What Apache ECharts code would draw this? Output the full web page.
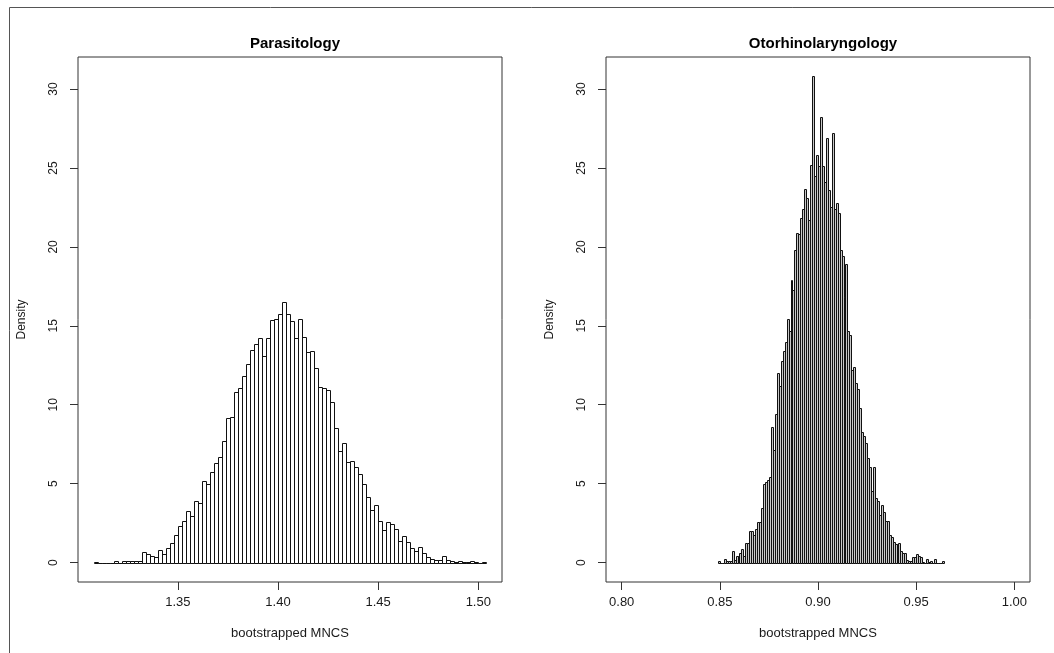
<!DOCTYPE html>
<html>
<head>
<meta charset="utf-8">
<title>bootstrapped MNCS</title>
<script src="https://cdn.jsdelivr.net/npm/echarts@6/dist/echarts.min.js"></script>
<style>
  html, body { margin: 0; padding: 0; background: #fff; }
  #chart { width: 1054px; height: 653px; }
</style>
</head>
<body>
<div id="chart"></div>
<script>
// histogram breaks (lower edge of first bin and bin width)
var paraStart = 1.308;
var paraWidth = 0.002;
var otoStart = 0.849;
var otoWidth = 0.001;

// density per bin
var paraDensity = [
  0.05, 0, 0, 0, 0, 0.08, 0, 0.08, 0.08, 0.08,
  0.08, 0.08, 0.70, 0.53, 0.44, 0.38, 0.80, 0.53, 0.95, 1.22,
  1.73, 2.30, 2.66, 3.29, 2.93, 3.88, 3.76, 5.15, 4.98, 5.76,
  6.29, 6.69, 7.72, 9.14, 9.22, 10.78, 11.08, 11.79, 12.59, 13.46,
  13.82, 14.24, 13.06, 14.24, 15.36, 15.44, 15.78, 16.52, 15.78, 15.32,
  14.24, 15.46, 14.26, 13.33, 13.42, 12.30, 11.10, 11.05, 10.93, 10.19,
  8.50, 7.09, 7.55, 6.39, 6.46, 6.08, 5.59, 4.98, 4.14, 3.33,
  3.65, 2.64, 2.07, 2.55, 2.45, 2.11, 1.35, 1.71, 1.29, 0.93,
  0.72, 0.97, 0.59, 0.38, 0.21, 0.15, 0.15, 0.44, 0.15, 0.10,
  0.05, 0.08, 0.05, 0.05, 0.08, 0.05, 0, 0.05
];

var otoDensity = [
  0.13, 0, 0, 0.23, 0.1, 0.1, 0.1, 0.74, 0.15, 0.42,
  0.42, 0.63, 0.86, 0.42, 1.27, 1.27, 2.03, 2.03, 1.75, 2.13,
  2.57, 2.60, 3.48, 4.98, 5.08, 5.23, 5.40, 8.6, 7.1, 9.4,
  12.0, 11.2, 12.8, 13.4, 14.0, 15.4, 14.7, 17.9, 17.3, 19.8,
  20.9, 20.8, 21.8, 22.4, 23.7, 23.1, 21.7, 25.2, 30.8, 24.5,
  25.8, 25.1, 28.2, 25.1, 24.1, 26.9, 23.6, 22.5, 27.2, 22.4,
  22.8, 22.15, 19.8, 19.4, 16.8, 18.9, 14.7, 14.4, 12.2, 12.4,
  11.35, 11.0, 9.8, 8.3, 8.0, 7.55, 6.6, 6.08, 4.56, 6.03,
  4.07, 3.92, 3.02, 3.65, 3.2, 2.66, 2.66, 1.75, 1.6, 1.33,
  1.18, 1.18, 1.22, 0.76, 0.63, 0.59, 0.15, 0.1, 0.1, 0.38,
  0.38, 0.55, 0.42, 0.34, 0.06, 0, 0.21, 0.06, 0.13, 0,
  0.21, 0, 0, 0, 0.1
];

var paraTicks = [1.35, 1.40, 1.45, 1.50];
var otoTicks = [0.80, 0.85, 0.90, 0.95, 1.00];
var densityTicks = [0, 5, 10, 15, 20, 25, 30];

var titles = ["Parasitology", "Otorhinolaryngology"];
var xName = "bootstrapped MNCS";
var yName = "Density";

var FONT = "'Liberation Sans', Arial, Helvetica, sans-serif";
var TXT = "#1a1a1a";

function toBins(start, width, dens) {
  var out = [];
  for (var i = 0; i < dens.length; i++) {
    var lo = +(start + i * width).toFixed(4);
    var hi = +(start + (i + 1) * width).toFixed(4);
    out.push([lo, hi, dens[i]]);
  }
  return out;
}

// snap to the pixel grid so thin bars stay crisp like the R output
function snap(v) {
  return Math.round(v) + 0.5;
}

function barRenderer(fill) {
  return function (params, api) {
    var top = api.coord([api.value(0), api.value(2)]);
    var bot = api.coord([api.value(1), 0]);
    var x0 = snap(top[0]), x1 = snap(bot[0]);
    var y0 = snap(top[1]), y1 = snap(bot[1]);
    return {
      type: "rect",
      shape: { x: x0, y: y0, width: x1 - x0, height: y1 - y0 },
      style: { fill: fill, stroke: "#111", lineWidth: 1 }
    };
  };
}

function xAxisFor(idx, min, max, ticks) {
  return {
    type: "value",
    gridIndex: idx,
    min: min,
    max: max,
    name: xName,
    nameLocation: "middle",
    nameGap: 45,
    nameTextStyle: { fontFamily: FONT, fontSize: 13, color: TXT },
    axisLine: { show: false, onZero: false },
    splitLine: { show: false },
    axisTick: {
      show: true,
      inside: false,
      length: 8,
      customValues: ticks,
      lineStyle: { color: "#333", width: 1 }
    },
    axisLabel: {
      show: true,
      customValues: ticks,
      margin: 14,
      fontFamily: FONT,
      fontSize: 13,
      color: TXT,
      formatter: function (v) { return v.toFixed(2); }
    }
  };
}

function yAxisFor(idx) {
  return {
    type: "value",
    gridIndex: idx,
    min: -1.232,
    max: 32.032,
    name: yName,
    nameLocation: "middle",
    nameGap: 50,
    nameRotate: 90,
    nameTextStyle: { fontFamily: FONT, fontSize: 12, color: TXT },
    axisLine: { show: false, onZero: false },
    splitLine: { show: false },
    axisTick: {
      show: true,
      inside: false,
      length: 8,
      customValues: densityTicks,
      lineStyle: { color: "#333", width: 1 }
    },
    axisLabel: {
      show: true,
      customValues: densityTicks,
      rotate: 90,
      margin: 18,
      fontFamily: FONT,
      fontSize: 12,
      color: TXT
    }
  };
}

var chart = echarts.init(document.getElementById("chart"), null, { renderer: "canvas" });

chart.setOption({
  backgroundColor: "#fff",
  animation: false,
  title: [
    {
      text: titles[0],
      left: 290,
      top: 31,
      textAlign: "center",
      textStyle: { fontFamily: FONT, fontSize: 15, fontWeight: "bold", color: "#000" }
    },
    {
      text: titles[1],
      left: 818,
      top: 31,
      textAlign: "center",
      textStyle: { fontFamily: FONT, fontSize: 15, fontWeight: "bold", color: "#000" }
    }
  ],
  grid: [
    { left: 78, top: 57, width: 424, height: 525, show: true, borderColor: "#333", borderWidth: 1, backgroundColor: "transparent" },
    { left: 606, top: 57, width: 424, height: 525, show: true, borderColor: "#333", borderWidth: 1, backgroundColor: "transparent" }
  ],
  xAxis: [
    xAxisFor(0, 1.30016, 1.51184, paraTicks),
    xAxisFor(1, 0.792, 1.008, otoTicks)
  ],
  yAxis: [yAxisFor(0), yAxisFor(1)],
  graphic: [
    { type: "line", shape: { x1: 9.5, y1: 7.5, x2: 9.5, y2: 653 }, style: { stroke: "#555", lineWidth: 1 } },
    { type: "line", shape: { x1: 9.5, y1: 7.5, x2: 1054, y2: 7.5 }, style: { stroke: "#555", lineWidth: 1 } }
  ],
  series: [
    {
      type: "custom",
      xAxisIndex: 0,
      yAxisIndex: 0,
      renderItem: barRenderer("none"),
      encode: { x: [0, 1], y: 2 },
      data: toBins(paraStart, paraWidth, paraDensity),
      silent: true
    },
    {
      type: "custom",
      xAxisIndex: 1,
      yAxisIndex: 1,
      renderItem: barRenderer("#c8c8c8"),
      encode: { x: [0, 1], y: 2 },
      data: toBins(otoStart, otoWidth, otoDensity),
      silent: true
    }
  ]
});
</script>
</body>
</html>
